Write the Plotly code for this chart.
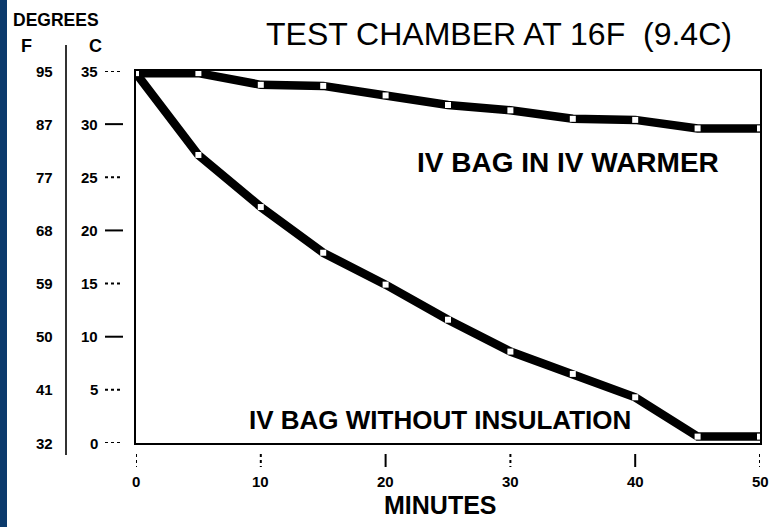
import plotly.graph_objects as go

# ---- data ----
minutes = [0, 5, 10, 15, 20, 25, 30, 35, 40, 45, 50]
warmer_c = [34.8, 34.8, 33.7, 33.6, 32.7, 31.8, 31.3, 30.5, 30.4, 29.6, 29.6]
no_insul_c = [34.8, 27.1, 22.2, 17.9, 14.9, 11.6, 8.6, 6.5, 4.3, 0.6, 0.6]

c_ticks = [35, 30, 25, 20, 15, 10, 5, 0]
f_labels = ["95", "87", "77", "68", "59", "50", "41", "32"]
c_labels = ["35", "30", "25", "20", "15", "10", "5", "0"]
x_ticks = [0, 10, 20, 30, 40, 50]
x_labels = ["0", "10", "20", "30", "40", "50"]

W, H = 775, 527
def px(x):
    return x / W
def py(y):
    return 1 - y / H

LBL = "Liberation Sans, Arial, sans-serif"

fig = go.Figure()
for ys in (warmer_c, no_insul_c):
    fig.add_trace(go.Scatter(
        x=minutes, y=ys, mode="lines+markers",
        line=dict(color="black", width=8.5),
        marker=dict(symbol="square", size=6, color="white", line=dict(width=0)),
        showlegend=False, hoverinfo="skip", cliponaxis=False))

fig.update_layout(
    width=W, height=H, margin=dict(l=0, r=0, t=0, b=0),
    paper_bgcolor="white", plot_bgcolor="white",
    xaxis=dict(domain=[px(136), px(760)], range=[0, 50], showgrid=False,
               zeroline=False, showticklabels=False, ticks="",
               showline=True, mirror=True, linecolor="black", linewidth=2),
    yaxis=dict(domain=[py(443), py(71)], range=[0, 35], showgrid=False,
               zeroline=False, showticklabels=False, ticks="",
               showline=True, mirror=True, linecolor="black", linewidth=2),
)

shapes = [dict(type="rect", xref="paper", yref="paper", x0=0, x1=px(7), y0=0, y1=1,
               fillcolor="#0b3a6c", line=dict(width=0), layer="above"),
          dict(type="line", xref="paper", yref="paper", x0=px(66), x1=px(66),
               y0=py(45), y1=py(455), line=dict(color="#333333", width=2))]
annotations = []

for v, fl, cl in zip(c_ticks, f_labels, c_labels):
    annotations.append(dict(xref="paper", yref="y", x=px(55), y=v, text=fl,
                            xanchor="right", yanchor="middle", showarrow=False,
                            font=dict(family=LBL, size=15, color="black", weight="bold")))
    annotations.append(dict(xref="paper", yref="y", x=px(100), y=v, text=cl,
                            xanchor="right", yanchor="middle", showarrow=False,
                            font=dict(family=LBL, size=15, color="black", weight="bold")))
    shapes.append(dict(type="line", xref="paper", yref="y", x0=px(105), x1=px(123),
                       y0=v, y1=v,
                       line=dict(color="black", width=2,
                                 dash="solid" if v in (30, 20, 10) else "dot")))

for v, lab in zip(x_ticks, x_labels):
    shapes.append(dict(type="line", xref="x", yref="paper", x0=v, x1=v,
                       y0=py(454), y1=py(467),
                       line=dict(color="black", width=2,
                                 dash="solid" if v in (20, 40) else "dot")))
    annotations.append(dict(xref="x", yref="paper", x=v, y=py(481), text=lab,
                            xanchor="center", yanchor="middle", showarrow=False,
                            font=dict(family=LBL, size=15, color="black", weight="bold")))

annotations += [
    dict(xref="paper", yref="paper", x=px(11), y=py(20), text="DEGREES",
         xanchor="left", yanchor="middle", showarrow=False,
         font=dict(family=LBL, size=17.5, color="black", weight="bold")),
    dict(xref="paper", yref="paper", x=px(27), y=py(46), text="F",
         xanchor="center", yanchor="middle", showarrow=False,
         font=dict(family=LBL, size=18, color="black", weight="bold")),
    dict(xref="paper", yref="paper", x=px(95), y=py(46), text="C",
         xanchor="center", yanchor="middle", showarrow=False,
         font=dict(family=LBL, size=18, color="black", weight="bold")),
    dict(xref="paper", yref="paper", x=px(499), y=py(34), text="TEST CHAMBER AT 16F&nbsp;&nbsp;(9.4C)",
         xanchor="center", yanchor="middle", showarrow=False,
         font=dict(family=LBL, size=32, color="black")),
    dict(xref="paper", yref="paper", x=px(568), y=py(162), text="IV BAG IN IV WARMER",
         xanchor="center", yanchor="middle", showarrow=False,
         font=dict(family=LBL, size=28, color="black", weight="bold")),
    dict(xref="paper", yref="paper", x=px(440), y=py(420), text="IV BAG WITHOUT INSULATION",
         xanchor="center", yanchor="middle", showarrow=False,
         font=dict(family=LBL, size=26, color="black", weight="bold")),
    dict(xref="paper", yref="paper", x=px(440), y=py(505), text="MINUTES",
         xanchor="center", yanchor="middle", showarrow=False,
         font=dict(family=LBL, size=25, color="black", weight="bold")),
]

fig.update_layout(shapes=shapes, annotations=annotations)
fig.write_html("out.html", config={"displayModeBar": False},
               post_script="document.body.style.margin='0';")
